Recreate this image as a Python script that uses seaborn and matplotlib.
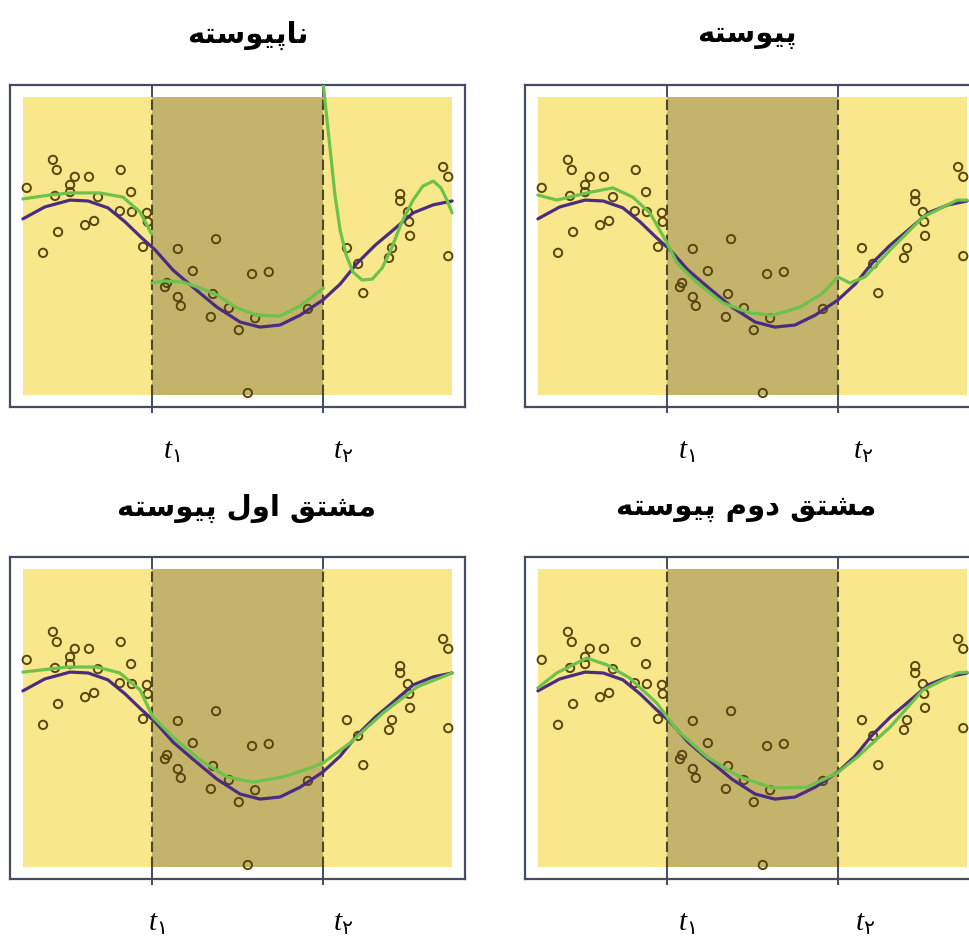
import matplotlib
matplotlib.use("Agg")
import matplotlib.pyplot as plt
import matplotlib.transforms as mtransforms
import seaborn as sns

sns.set_style("white")
plt.rcParams['font.family'] = ['DejaVu Sans']
plt.rcParams['mathtext.fontset'] = 'custom'
plt.rcParams['mathtext.it'] = 'Liberation Serif:italic'
plt.rcParams['mathtext.rm'] = 'DejaVu Sans'

# knots and region limits
knots = [3, 7]
region_edges = [0, 3, 7, 10]
tick_labels = [r'$t_۱$', r'$t_۲$']

# observed points
pts_x = [0.09, 0.70, 0.79, 1.21, 1.54, 1.10, 1.10, 0.75, 1.75, 2.28,
         2.52, 2.26, 2.54, 2.89, 2.91, 1.66, 1.45, 0.82, 0.47, 2.80,
         3.61, 4.50, 3.96, 5.34, 5.73, 3.31, 3.36, 3.61, 3.68, 4.43,
         4.80, 4.38, 5.41, 5.03, 5.24, 6.64,
         7.55, 7.93, 7.81, 8.79, 8.79, 8.97, 9.00, 9.02, 8.60, 8.53,
         9.79, 9.91, 9.91]
pts_y = [6.95, 7.89, 7.55, 7.32, 7.32, 7.05, 6.81, 6.68, 6.64, 7.55,
         6.81, 6.17, 6.14, 6.11, 5.81, 5.84, 5.70, 5.47, 4.77, 4.97,
         4.90, 5.23, 4.16, 4.06, 4.13, 3.62, 3.76, 3.29, 2.99, 3.39,
         2.92, 2.62, 2.58, 2.18, 0.07, 2.89,
         4.93, 3.42, 4.40, 6.74, 6.51, 6.14, 5.81, 5.34, 4.93, 4.60,
         7.65, 7.32, 4.66]

# true curve (purple)
true_x = [0.00, 0.51, 1.10, 1.52, 1.98, 2.38, 2.77, 3.08, 3.50, 3.96, 4.52, 5.06,
          5.52, 5.99, 6.46, 6.99, 7.39, 7.79, 8.21, 8.55, 9.09, 9.56, 10.00]
true_y = [5.91, 6.31, 6.54, 6.51, 6.28, 5.81, 5.27, 4.87, 4.19, 3.62, 2.95, 2.45,
          2.28, 2.35, 2.68, 3.19, 3.72, 4.43, 5.03, 5.44, 6.11, 6.38, 6.51]

# fitted curves (green)
disc_left_x = [0, 0.63, 1.10, 1.79, 2.33, 2.73, 3.0]
disc_left_y = [6.58, 6.71, 6.78, 6.78, 6.64, 6.14, 5.40]
disc_mid_x = [3.0, 3.31, 3.73, 4.13, 4.52, 4.99, 5.45, 5.99, 6.46, 7.0]
disc_mid_y = [3.76, 3.83, 3.79, 3.59, 3.36, 2.92, 2.68, 2.65, 2.99, 3.59]
disc_right_x = [6.99, 7.06, 7.16, 7.27, 7.39, 7.53, 7.69, 7.90, 8.14, 8.37, 8.60,
                8.83, 9.09, 9.32, 9.56, 9.74, 9.88, 10.0]
disc_right_y = [10.57, 9.56, 8.22, 6.71, 5.54, 4.70, 4.13, 3.86, 3.89, 4.26, 4.97,
                5.81, 6.54, 7.01, 7.18, 6.95, 6.54, 6.11]

cont_x = [0, 0.44, 1.14, 1.75, 2.21, 2.61, 3.01, 3.24, 3.71, 4.31, 4.94, 5.48,
          6.11, 6.64, 6.99, 7.27, 7.62, 8.21, 8.97, 9.77, 10.0]
cont_y = [6.71, 6.54, 6.78, 6.95, 6.64, 6.11, 5.10, 4.43, 3.76, 3.09, 2.75, 2.68,
          2.95, 3.42, 3.96, 3.76, 3.96, 4.87, 5.97, 6.54, 6.54]

d1_x = [0, 1.03, 1.72, 2.26, 2.73, 3.03, 3.50, 4.13, 4.76, 5.36, 6.06, 6.69,
        6.99, 7.62, 8.39, 9.18, 10.0]
d1_y = [6.54, 6.71, 6.71, 6.51, 5.94, 5.03, 4.36, 3.59, 3.02, 2.85, 3.02, 3.32,
        3.49, 4.16, 5.17, 6.04, 6.51]

d2_x = [0, 0.44, 1.14, 1.61, 2.14, 2.77, 3.24, 3.94, 4.71, 5.48, 6.27, 6.97,
        7.44, 8.21, 8.97, 9.77, 10.0]
d2_y = [6.01, 6.51, 7.01, 6.78, 6.34, 5.50, 4.60, 3.69, 3.02, 2.65, 2.68, 3.15,
        3.69, 4.70, 5.94, 6.51, 6.54]

# Persian letter forms: isolated, final, initial, medial
FORMS = {
    'ا': ('\uFE8D', '\uFE8E', None, None),
    'د': ('\uFEA9', '\uFEAA', None, None),
    'و': ('\uFEED', '\uFEEE', None, None),
    'ت': ('\uFE95', '\uFE96', '\uFE97', '\uFE98'),
    'س': ('\uFEB1', '\uFEB2', '\uFEB3', '\uFEB4'),
    'ش': ('\uFEB5', '\uFEB6', '\uFEB7', '\uFEB8'),
    'ق': ('\uFED5', '\uFED6', '\uFED7', '\uFED8'),
    'ل': ('\uFEDD', '\uFEDE', '\uFEDF', '\uFEE0'),
    'م': ('\uFEE1', '\uFEE2', '\uFEE3', '\uFEE4'),
    'ن': ('\uFEE5', '\uFEE6', '\uFEE7', '\uFEE8'),
    'ه': ('\uFEE9', '\uFEEA', '\uFEEB', '\uFEEC'),
    'پ': ('\uFB56', '\uFB57', '\uFB58', '\uFB59'),
    'ی': ('\uFBFC', '\uFBFD', '\uFBFE', '\uFBFF'),
}


def shape(text):
    out = []
    for i, ch in enumerate(text):
        if ch not in FORMS:
            out.append(ch)
            continue
        prev = i > 0 and text[i - 1] in FORMS and FORMS[text[i - 1]][2] is not None
        nxt = (i < len(text) - 1 and text[i + 1] in FORMS
               and FORMS[ch][2] is not None)
        iso, fin, ini, med = FORMS[ch]
        if prev and nxt:
            out.append(med)
        elif prev:
            out.append(fin)
        elif nxt:
            out.append(ini)
        else:
            out.append(iso)
    return ''.join(reversed(out))


fig = plt.figure(figsize=(9.7, 9.36), dpi=100)
W, H = 970, 936

panels = [
    # title, frame left px, frame top px, title centre, label offsets px
    ("ناپیوسته", 10, 85, (248, 35), (11, 10)),
    ("پیوسته", 525, 85, (747, 35), (11, 15)),
    ("مشتق اول پیوسته", 10, 557, (247, 508), (-4, 10)),
    ("مشتق دوم پیوسته", 525, 557, (746, 508), (11, 17)),
]
fits = [
    [(disc_left_x, disc_left_y), (disc_mid_x, disc_mid_y), (disc_right_x, disc_right_y)],
    [(cont_x, cont_y)],
    [(d1_x, d1_y)],
    [(d2_x, d2_y)],
]

frame_col = '#474b60'
yellow = '#F9E78B'
olive = '#C4B36B'
purple = '#4A2D80'
green = '#6CC24A'

for (title, fx, fy, tpos, loff), fit in zip(panels, fits):
    ax = fig.add_axes([fx / W, 1 - (fy + 322) / H, 455 / W, 322 / H])
    ax.set_xlim(-0.3, 10.3)
    ax.set_ylim(-0.4, 10.4)

    for k in knots:
        ax.axvline(k, color=frame_col, lw=1.4, zorder=0.5)
    cols = [yellow, olive, yellow]
    for i in range(3):
        ax.fill_between([region_edges[i], region_edges[i + 1]], 0, 10,
                        color=cols[i], lw=0, zorder=1)
    for k in knots:
        ax.axvline(k, ymin=0.4 / 10.8, ymax=10.4 / 10.8, color='#4f4630',
                   lw=1.5, ls=(0, (5, 2.2)), zorder=2)

    sns.scatterplot(x=pts_x, y=pts_y, ax=ax, marker='o', s=36,
                    facecolor='none', edgecolor='#574610', linewidth=1.4,
                    zorder=3)
    sns.lineplot(x=true_x, y=true_y, ax=ax, color=purple, lw=2.3,
                 sort=False, estimator=None, zorder=4)
    for gx, gy in fit:
        sns.lineplot(x=gx, y=gy, ax=ax, color=green, lw=2.3,
                     sort=False, estimator=None, zorder=5)

    for s in ax.spines.values():
        s.set_color(frame_col)
        s.set_linewidth(1.6)
    ax.set_yticks([])
    ax.set_xticks(knots)
    ax.set_xticklabels(tick_labels, fontsize=21, ha='left', color='black')
    ax.tick_params(axis='x', direction='out', length=4.5, width=1.4,
                   color=frame_col, pad=17, bottom=True)
    for lab, dx in zip(ax.get_xticklabels(), loff):
        off = mtransforms.ScaledTranslation(dx / 100, 0, fig.dpi_scale_trans)
        lab.set_transform(lab.get_transform() + off)
    ax.set_xlabel('')
    ax.set_ylabel('')

    fig.text(tpos[0] / W, 1 - tpos[1] / H, shape(title), ha='center',
             va='center', fontsize=21, fontweight='bold', color='black')

fig.savefig('out.png', dpi=100)
